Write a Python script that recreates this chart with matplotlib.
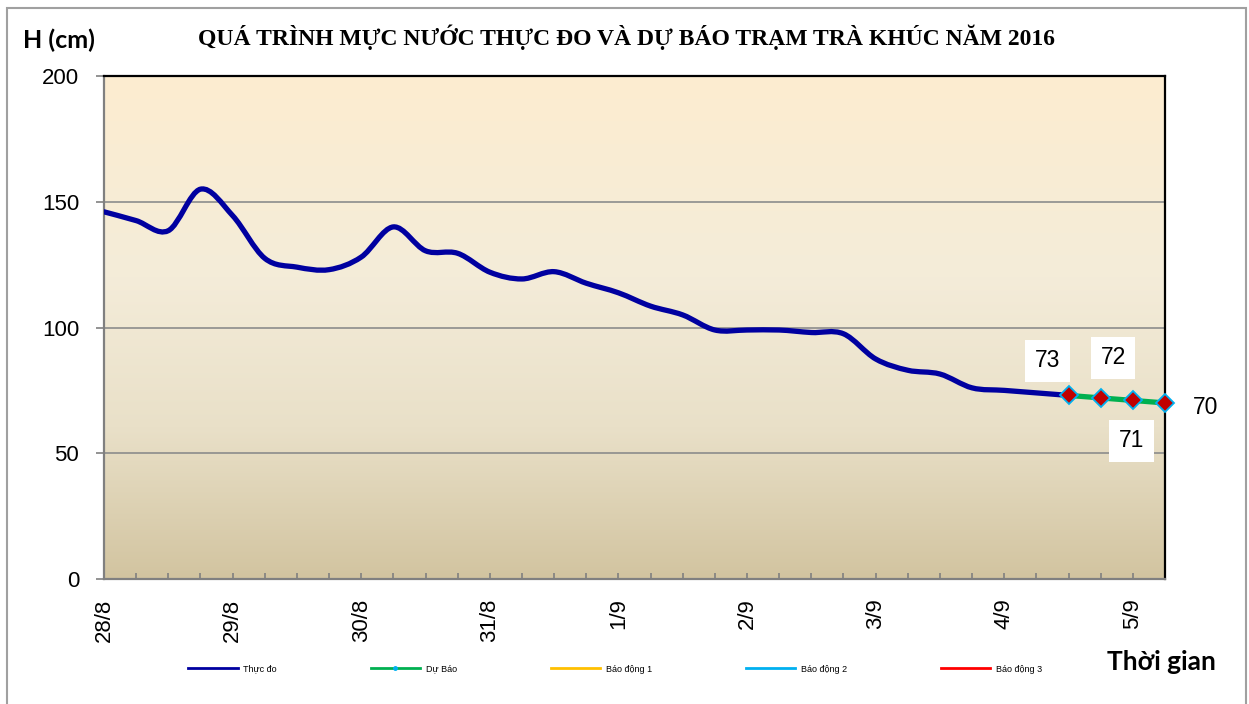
import matplotlib
matplotlib.use("Agg")
import matplotlib.pyplot as plt
import numpy as np
from matplotlib.path import Path
from matplotlib.patches import PathPatch, Rectangle
from matplotlib.lines import Line2D
from matplotlib.colors import LinearSegmentedColormap

plt.rcParams['font.family'] = ['Liberation Sans', 'DejaVu Sans']

# water level every 6 hours from 28/8 00h (cm)
obs_h = [146, 142.5, 138.5, 155, 144.5, 127.5, 124, 123, 128, 140, 130.5,
         129.5, 122, 119.3, 122.2, 117.6, 113.8, 108.5, 105, 99, 99, 99,
         98, 97.5, 87.5, 83, 81.5, 76, 75, 74, 73]
fc_h = [73, 72, 71, 70]
day_labels = ['28/8', '29/8', '30/8', '31/8', '1/9', '2/9', '3/9', '4/9', '5/9']

step = 0.25
obs_x = np.arange(len(obs_h)) * step
fc_x = obs_x[-1] + np.arange(len(fc_h)) * step
x_end = fc_x[-1]


def smooth_path(xs, ys):
        # cubic bezier through every point, like the smoothed line option
        pts = np.column_stack([xs, ys]).astype(float)
        n = len(pts)
        verts = [pts[0]]
        codes = [Path.MOVETO]
        for i in range(n - 1):
                p0 = pts[max(i - 1, 0)]
                p1 = pts[i]
                p2 = pts[i + 1]
                p3 = pts[min(i + 2, n - 1)]
                verts += [p1 + (p2 - p0) / 6.0, p2 - (p3 - p1) / 6.0, p2]
                codes += [Path.CURVE4] * 3
        return Path(verts, codes)


fig = plt.figure(figsize=(12.49, 7.04), dpi=100)
ax = fig.add_axes([104 / 1249, 1 - 579 / 704, (1165 - 104) / 1249, (579 - 76) / 704])

# background gradient of the plot area
cmap = LinearSegmentedColormap.from_list('bg', [(0.0, '#D2C4A0'), (0.3, '#E9E0C8'),
                                                (0.6, '#F4ECD9'), (1.0, '#FDEDD0')])
grad = np.linspace(0, 1, 256).reshape(-1, 1)
ax.imshow(grad, cmap=cmap, origin='lower', aspect='auto',
          extent=[0, x_end, 0, 200], zorder=0)

ax.set_xlim(0, x_end)
ax.set_ylim(0, 200)

for v in [50, 100, 150]:
        ax.axhline(v, color='#8C8C8C', lw=1.2, zorder=1)

ax.add_patch(PathPatch(smooth_path(obs_x, obs_h), fill=False,
                       edgecolor='#0000A0', lw=3.8, zorder=3, capstyle='round'))
ax.plot(fc_x, fc_h, color='#00B050', lw=3.8, zorder=3)
ax.plot(fc_x, fc_h, ls='none', marker='D', ms=9, markerfacecolor='#C00000',
        markeredgecolor='#00B0F0', markeredgewidth=1.3, zorder=4, clip_on=False)

offsets = [(-15, 25), (9, 29), (-1, -29), (29, -3)]
for x, h, off in zip(fc_x, fc_h, offsets):
        ax.annotate(str(h), (x, h), xytext=off, textcoords='offset points',
                    ha='center', va='center', fontsize=16.5, zorder=5,
                    bbox=dict(boxstyle='square,pad=0.42', fc='white', ec='none'),
                    annotation_clip=False)

ax.set_yticks([0, 50, 100, 150, 200])
ax.tick_params(axis='y', direction='out', length=6, width=1.2, color='#808080',
               labelsize=16, pad=12)
ax.set_xticks(np.arange(len(day_labels)))
ax.set_xticklabels(day_labels, rotation=90, fontsize=16)
ax.set_xticks(np.arange(0, x_end + 0.01, step), minor=True)
ax.tick_params(axis='x', which='both', direction='in', length=4, width=1.2,
               color='#808080', pad=14)

ax.spines['left'].set_color('#808080')
ax.spines['bottom'].set_color('#808080')
ax.spines['top'].set_color('black')
ax.spines['right'].set_color('black')
for s in ax.spines.values():
        s.set_linewidth(1.6)

fig.text(627 / 1249, 1 - 37 / 704,
         'QUÁ TRÌNH MỰC NƯỚC THỰC ĐO VÀ DỰ BÁO TRẠM TRÀ KHÚC NĂM 2016',
         ha='center', va='center', fontsize=17, fontweight='bold',
         family=['Liberation Serif', 'DejaVu Serif'])
fig.text(59 / 1249, 1 - 40 / 704, 'H (cm)', ha='center', va='center',
         fontsize=18, fontweight='bold', family=['Lato', 'DejaVu Sans'])
fig.text(1161 / 1249, 1 - 662 / 704, 'Thời gian', ha='center', va='center',
         fontsize=19, fontweight='bold', family=['Lato', 'DejaVu Sans'])

handles = [Line2D([], [], color='#0000A0', lw=2),
           Line2D([], [], color='#00B050', lw=2, marker='o', ms=2.5,
                  markerfacecolor='#00B0F0', markeredgecolor='#00B0F0', markevery=[1]),
           Line2D([], [], color='#FFC000', lw=2),
           Line2D([], [], color='#00B0F0', lw=2),
           Line2D([], [], color='#FF0000', lw=2)]
names = ['Thực đo', 'Dự Báo', 'Báo động 1', 'Báo động 2', 'Báo động 3']
fig.legend(handles, names, loc='center', ncol=5, mode='expand',
           bbox_to_anchor=(180 / 1249, 1 - 680 / 704, (1050 - 180) / 1249, 22 / 704),
           frameon=False, fontsize=6.5, handlelength=5.5, handletextpad=0.6)

fig.patches.append(Rectangle((7 / 1249, -0.02), (1246 - 7) / 1249, 1.02 - 8 / 704,
                             transform=fig.transFigure, fill=False,
                             edgecolor='#A0A0A0', lw=1.5))

fig.savefig('out.png', dpi=100)
